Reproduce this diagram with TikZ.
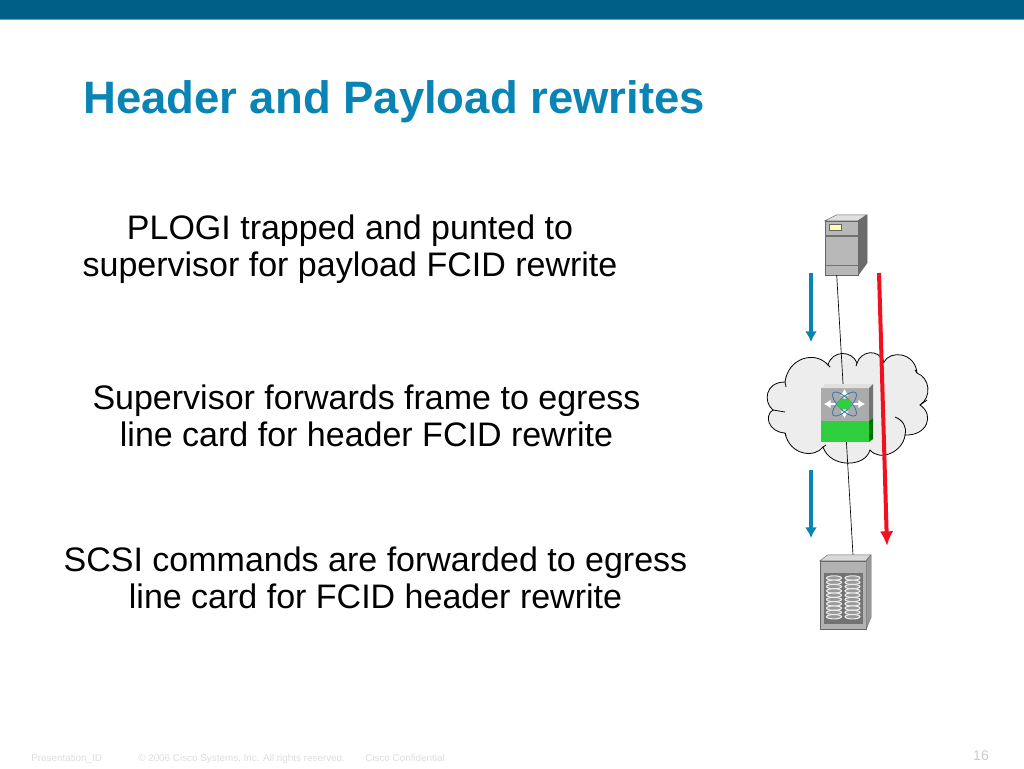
\documentclass[tikz,border=0pt]{standalone}
\usepackage{fontspec}
\setmainfont{Liberation Sans}
\usetikzlibrary{arrows.meta}
\definecolor{barblue}{HTML}{005F86}
\definecolor{titleblue}{HTML}{0A84B5}
\definecolor{flowblue}{HTML}{0A84B5}
\definecolor{flowred}{HTML}{F01020}
\definecolor{swgreen}{HTML}{2FCF3F}
\definecolor{footgrey}{HTML}{DDDDDD}
\definecolor{petal}{HTML}{2F78B0}
\tikzset{
  caption/.style={align=center, font=\fontsize{25.5}{27.7}\selectfont, inner sep=0pt},
  footer/.style={anchor=base west, text=footgrey, font=\fontsize{7.4}{9}\selectfont, inner sep=0pt},
  flow/.style={-{Latex[length=8pt,width=9pt]}, line width=2.6pt, flowblue},
  redflow/.style={-{Latex[length=11pt,width=10pt]}, line width=3pt, flowred},
  face/.style={draw=black!60, line width=.3pt},
  box/.style={inner sep=0pt, draw=black!60, line width=.3pt},
  whitearrow/.style={white, line width=2.2pt, {Latex[length=5pt,width=6.5pt]}-{Latex[length=5pt,width=6.5pt]}},
}
\begin{document}
\begin{tikzpicture}[x=.75pt, y=-.75pt]
\useasboundingbox (0,0) rectangle (1024,768);
\fill[barblue] (0,0) rectangle (1024,19);
\fill[barblue!60] (0,19) rectangle (1024,20);
\node[anchor=west, inner sep=0pt, text=titleblue, font=\fontsize{34.1}{37}\selectfont\bfseries] (title) at (83,102) {Header and Payload rewrites};

\node[caption] (plogi) at (350,249) {PLOGI trapped and punted to\\supervisor for payload FCID rewrite};
\node[caption] (forward) at (366.5,416) {Supervisor forwards frame to egress\\line card for header FCID rewrite};
\node[caption] (scsi) at (375.5,577.5) {SCSI commands are forwarded to egress\\line card for FCID header rewrite};

% cloud
\draw[fill=black!7, line width=.6pt] (785,382)
  .. controls (788,358) and (815,350) .. (828,365)
  .. controls (832,350) and (852,350) .. (857,363)
  .. controls (861,351) and (878,348) .. (884,362)
  .. controls (890,350) and (915,352) .. (917,373)
  .. controls (930,378) and (932,397) .. (920,405)
  .. controls (935,415) and (927,436) .. (905,435)
  .. controls (903,452) and (880,462) .. (870,450)
  .. controls (865,468) and (830,468) .. (823,447)
  .. controls (815,458) and (790,456) .. (785,433)
  .. controls (768,432) and (764,415) .. (773,410)
  .. controls (763,402) and (765,382) .. (785,382);
\draw[line width=.6pt] (828,365) -- (830,367) (857,363) -- (856,366) (884,362) -- (882,364)
  (917,373) -- (915,370) (920,405) -- (927,400) (895,417) .. controls (903,420) and (907,427) .. (905,435)
  (823,447) -- (826,445) (785,433) -- (786,436) (773,410) -- (785,412) (785,382) -- (786,387);

% icons and the line through them
\node[box, minimum width=24.75pt, minimum height=40.5pt, fill=black!28] (server) at (841.5,248) {};
\node[box, minimum width=34.5pt, minimum height=51pt, fill=black!30] (storage) at (843,595) {};
\coordinate (storagetop) at (853,555);
\draw[line width=.5pt] (server.-100) -- (storagetop);

% server
\draw[face, fill=black!12] (server.north west) -- ++(12,-6) -- ++(30,0) -- ++(-9,6) -- cycle;
\draw[face, fill=black!58] (server.north east) -- ++(9,-6) -- ++(0,48) -- (server.south east) -- cycle;
\draw[black!55, line width=1pt] (825,236) -- (858,236) (825,265.5) -- (858,265.5);
\draw[black!60, fill=yellow!30, line width=.5pt] (829,224) rectangle (841,230);

% switch
\node[inner sep=0pt, minimum width=36pt, minimum height=40.5pt, fill=black!33] (switch) at (845,415) {};
\fill[swgreen] (821,421) rectangle (869,442);
\fill[black!12] (821,388) -- (825,384) -- (873,384) -- (869,388) -- cycle;
\fill[black!55] (869,388) -- (873,384) -- (873,418) -- (869,421) -- cycle;
\fill[green!45!black] (869,421) -- (873,418) -- (873,439) -- (869,442) -- cycle;
\draw[whitearrow] (824,404) -- (865,404);
\draw[whitearrow] (844.5,389) -- (844.5,418);
\draw[petal, line width=.6pt, rotate around={45:(844.5,404)}] (844.5,404) ellipse [x radius=16, y radius=6];
\draw[petal, line width=.6pt, rotate around={-45:(844.5,404)}] (844.5,404) ellipse [x radius=16, y radius=6];
\fill[swgreen] (844.5,404) ellipse [x radius=7, y radius=5.5];

% storage
\draw[face, fill=black!15] (storage.north west) -- ++(8,-6) -- ++(43,0) -- ++(-5,6) -- cycle;
\draw[face, fill=black!40] (storage.north east) -- ++(5,-6) -- ++(0,62) -- (storage.south east) -- cycle;
\fill[black!55] (824,573) rectangle (863,624);
\foreach \cx in {834,852.5}
  \foreach \cy in {578,582.3,...,621}
    \draw[black!8, fill=black!40, line width=.8pt] (\cx,\cy) ellipse [x radius=7.5, y radius=2.2];

% flows
\coordinate (flowa) at (811,273);
\coordinate (flowb) at (811,342);
\coordinate (flowc) at (811,470);
\coordinate (flowd) at (811,538);
\coordinate (flowe) at (879,273);
\coordinate (flowf) at (887,546);
\draw[flow] (flowa) -- (flowb);
\draw[flow] (flowc) -- (flowd);
\draw[redflow] (flowe) -- (flowf);

% footer
\node[footer] (pid) at (31,761) {Presentation\_ID};
\node[footer] (copy) at (138,761) {© 2006 Cisco Systems, Inc. All rights reserved.};
\node[footer] (conf) at (365,761) {Cisco Confidential};
\node[inner sep=0pt, text=black!20, font=\fontsize{10.5}{12}\selectfont] (page) at (981,756) {16};
\end{tikzpicture}
\end{document}
